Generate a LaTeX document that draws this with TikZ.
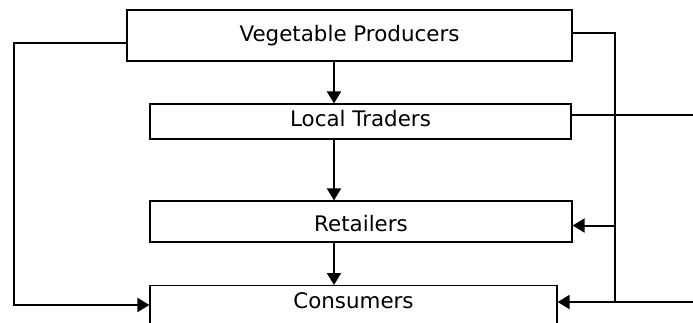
\documentclass[tikz,border=0pt]{standalone}
\usepackage{fontspec}
\setmainfont{DejaVu Sans}
\usetikzlibrary{arrows.meta}
\begin{document}
\begin{tikzpicture}[x=1pt,y=-1pt,
  box/.style={draw=black, line width=1.2pt, inner sep=0pt, font=\fontsize{21.4}{24}\selectfont, text depth=4pt},
  conn/.style={line width=2pt},
  arr/.style={conn, -{Triangle[length=12pt,width=14pt]}}]
\useasboundingbox (0,0) rectangle (693,322);
\clip (0,0) rectangle (693,322);
% boxes
\node[box, minimum width=445pt, minimum height=51pt, text height=16.4pt] (vp) at (349.5,35.5) {Vegetable Producers};
\node[box, minimum width=421pt, minimum height=35pt, text height=14.4pt] (lt) at (360.5,121.5) {Local Traders};
\node[box, minimum width=422pt, minimum height=41pt, text height=24.4pt] (rt) at (361,221.5) {Retailers};
\node[box, anchor=north, minimum width=407pt, text height=23.3pt, text depth=40pt] (cs) at (353.5,285) {Consumers};
% helper coordinates
\coordinate (cx) at (334,0);
\coordinate (l1) at (14,43);
\coordinate (l2) at (14,305);
\coordinate (r1) at (615,33);
\coordinate (r2) at (615,302);
\coordinate (r3) at (615,225.5);
\coordinate (e1) at (693,115);
\coordinate (e2) at (693,302);
% vertical chain
\draw[arr] (vp.south -| cx) -- (lt.north -| cx);
\draw[arr] (lt.south -| cx) -- (rt.north -| cx);
\draw[arr] (rt.south -| cx) -- (cs.north -| cx);
% left bypass
\draw[arr] (vp.west |- l1) -- (l1) -- (l2) -- (cs.west |- l2);
% right side
\draw[conn] (vp.east |- r1) -- (r1) -- (r2);
\draw[arr] (r3) -- (rt.east |- r3);
\draw[conn] (lt.east |- e1) -- (e1);
\draw[arr] (e2) -- (cs.east |- e2);
\end{tikzpicture}
\end{document}
